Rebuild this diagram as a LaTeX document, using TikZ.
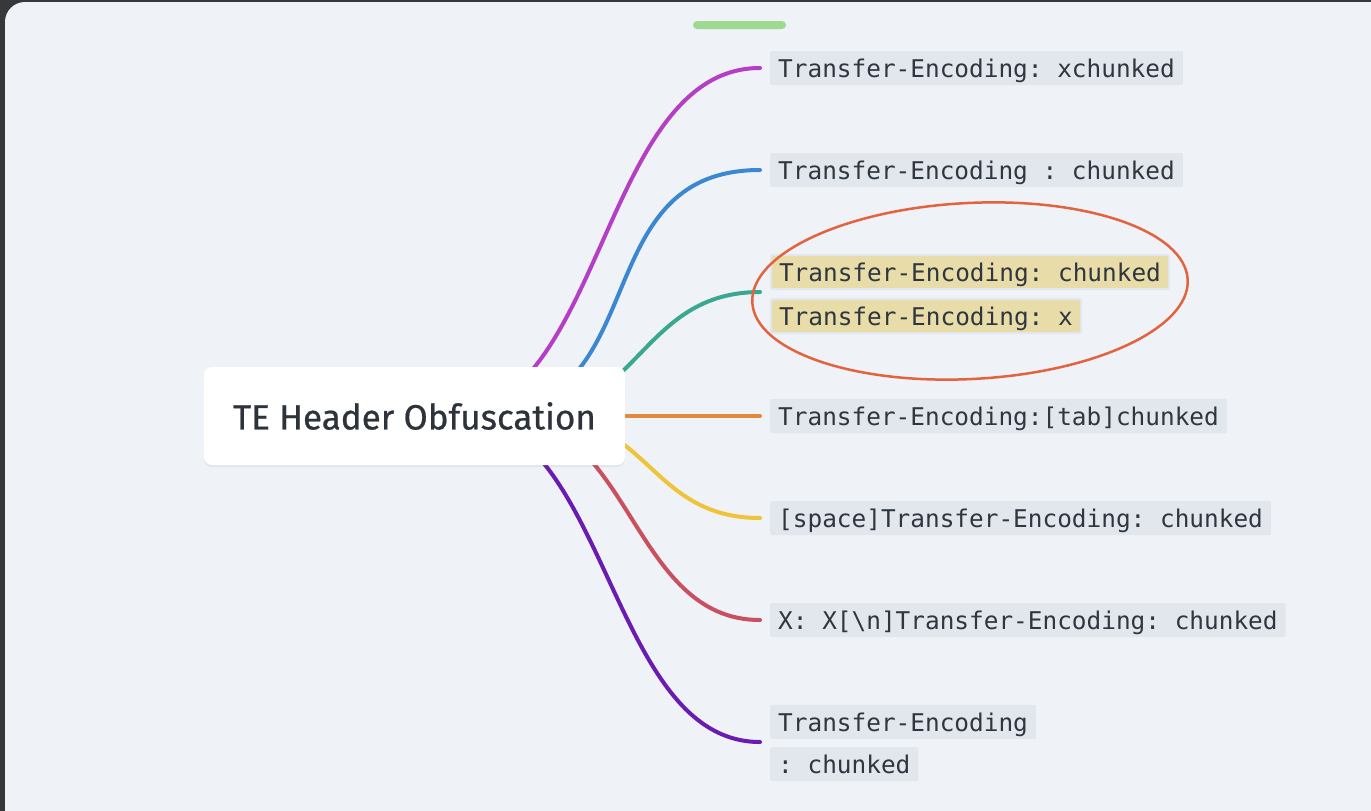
\documentclass[tikz,border=0pt]{standalone}
\usepackage{fontspec}
\setmonofont{DejaVu Sans Mono}
\newfontfamily\rootfont[FakeBold=0.6]{Fira Sans}
\usepackage{tikz}
\usetikzlibrary{positioning,shapes.geometric,backgrounds,shadows}
\definecolor{framegray}{HTML}{38383A}
\definecolor{panelbg}{HTML}{EFF2F7}
\definecolor{tagbg}{HTML}{E2E7ED}
\definecolor{tagtext}{HTML}{30363F}
\definecolor{hlfill}{HTML}{E8DCA8}
\definecolor{roottext}{HTML}{2D333B}
\definecolor{barcol}{HTML}{9FD98F}
\definecolor{ringcol}{HTML}{E4633F}
\definecolor{cPurple}{HTML}{B43FC4}
\definecolor{cBlue}{HTML}{3B87D0}
\definecolor{cTeal}{HTML}{3AA890}
\definecolor{cOrange}{HTML}{E08A3C}
\definecolor{cYellow}{HTML}{F0C43A}
\definecolor{cRed}{HTML}{C9505E}
\definecolor{cViolet}{HTML}{6A1BB0}

\begin{document}
\begin{tikzpicture}[x=1pt,y=-1pt]
\tikzstyle{root}=[fill=white,rounded corners=8pt,minimum width=421pt,minimum height=98pt,text=roottext,font=\rootfont\fontsize{35}{38}\selectfont,drop shadow={shadow xshift=0pt,shadow yshift=-2pt,opacity=0.05,fill=black}]
\tikzstyle{tag}=[fill=tagbg,text=tagtext,rounded corners=2pt,inner xsep=8pt,inner ysep=0pt,minimum height=34pt,text height=21pt,text depth=2pt,font=\ttfamily\fontsize{24.4}{28}\selectfont]
\tikzstyle{hltag}=[tag,fill=hlfill,draw=tagbg,line width=2pt]
\tikzstyle{ring}=[ellipse,draw=ringcol,line width=2.5pt]
\tikzstyle{branch}=[line width=4pt,line cap=round]
\useasboundingbox (0,0) rectangle (1371,811);

\node[root] (root) at (414.5,416) {TE Header Obfuscation};

\coordinate (e1) at (760,68);
\coordinate (e2) at (760,170);
\coordinate (e3) at (760,292);
\coordinate (e4) at (760,416);
\coordinate (e5) at (760,518);
\coordinate (e6) at (760,620);
\coordinate (e7) at (760,742);

\node[tag,right=10pt of e1] (t1) {Transfer-Encoding: xchunked};
\node[tag,right=10pt of e2] (t2) {Transfer-Encoding : chunked};
\node[hltag,above right=2pt and 10pt of e3] (t3a) {Transfer-Encoding: chunked};
\node[hltag,below right=6pt and 10pt of e3] (t3b) {Transfer-Encoding: x};
\node[tag,right=10pt of e4] (t4) {Transfer-Encoding:[tab]chunked};
\node[tag,right=10pt of e5] (t5) {[space]Transfer-Encoding: chunked};
\node[tag,right=10pt of e6] (t6) {X: X[\textbackslash n]Transfer-Encoding: chunked};
\node[tag,above right=3pt and 10pt of e7] (t7a) {Transfer-Encoding};
\node[tag,below right=5pt and 10pt of e7] (t7b) {: chunked};

\node[ring,minimum width=436pt,minimum height=176pt,rotate=3] (hl) at (970,291) {};

\coordinate (s1) at ([xshift=30pt]root.center);
\coordinate (s2) at ([xshift=60pt]root.center);
\coordinate (s3) at ([xshift=105pt]root.center);
\coordinate (s5) at ([xshift=125pt]root.center);
\coordinate (s6) at ([xshift=88pt]root.center);
\coordinate (s7) at ([xshift=42pt]root.center);

\begin{scope}[on background layer]
\fill[framegray] (0,0) rectangle (1371,811);
\fill[panelbg] (5,811) -- (5,22) arc[start angle=180,end angle=270,radius=20] -- (1371,2) -- (1371,811) -- cycle;
\fill[barcol,rounded corners=4pt] (693,21) rectangle (786,29);
\draw[branch,cPurple] (s1) .. controls +(160,0) and +(-160,0) .. (e1);
\draw[branch,cBlue] (s2) .. controls +(185,0) and +(-180,0) .. (e2);
\draw[branch,cTeal] (s3) .. controls +(120,0) and +(-120,0) .. (e3);
\draw[branch,cOrange] (root) -- (e4);
\draw[branch,cYellow] (s5) .. controls +(110,0) and +(-110,0) .. (e5);
\draw[branch,cRed] (s6) .. controls +(129,0) and +(-129,0) .. (e6);
\draw[branch,cViolet] (s7) .. controls +(152,0) and +(-152,0) .. (e7);
\end{scope}
\end{tikzpicture}
\end{document}
